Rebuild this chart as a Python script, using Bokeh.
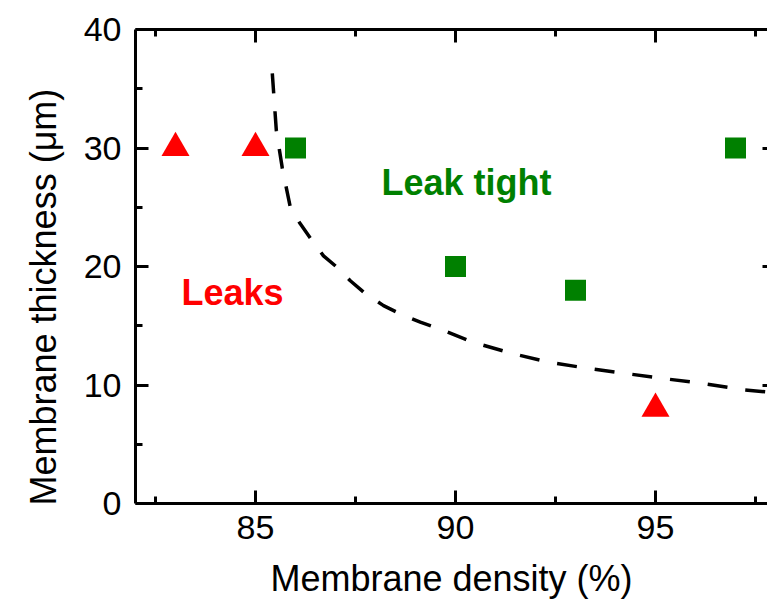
from bokeh.plotting import figure
from bokeh.models import LinearAxis, FixedTicker, ColumnDataSource, Title
from bokeh.core.properties import value
from bokeh.embed import file_html
from bokeh.resources import INLINE

# Data
leak_x = [83, 85, 95]
leak_y = [30, 30, 8]
tight_x = [86, 90, 93, 97]
tight_y = [30, 20, 18, 30]
curve_x = [85.42, 85.52, 85.67, 85.87, 86.12, 86.37, 86.7, 87.05, 87.37, 87.75,
           88.2, 88.62, 89.12, 89.55, 90.45, 91.42, 92.37, 93.32, 94.3, 95.3,
           96.25, 97.2, 98.0]
curve_y = [36.3, 31.5, 28.3, 25.0, 23.6, 22.4, 20.9, 19.9, 18.8, 17.7,
           16.7, 16.0, 15.3, 14.8, 13.6, 12.65, 11.9, 11.4, 10.95, 10.5,
           10.1, 9.6, 9.35]
x_major = [85, 90, 95]
x_minor = [82.5, 87.5, 92.5, 97.5]
y_major = [0, 10, 20, 30, 40]
y_minor = [5, 15, 25, 35]
labels_text = ["Leaks", "Leak tight"]
labels_x = [83.15, 88.15]
labels_y = [17.8, 27.05]
labels_color = ["#FF0000", "#008000"]
x_title = "Membrane density (%)"
y_title = "Membrane thickness (\u03bcm)"

FONT = "Liberation Sans"

p = figure(width=767, height=610, x_range=(82, 97.8), y_range=(0, 40),
           output_backend="svg", toolbar_location=None,
           x_axis_location=None, y_axis_location=None,
           min_border_left=135, min_border_top=29, min_border_bottom=107,
           min_border_right=0)
p.outline_line_color = None
p.grid.visible = False
p.background_fill_color = "white"
p.border_fill_color = "white"

xt = FixedTicker(ticks=x_major, minor_ticks=x_minor)
yt = FixedTicker(ticks=y_major, minor_ticks=y_minor)


def style(ax, labels=True, ticks=None):
    ax.axis_line_width = 3
    ax.axis_line_color = "black"
    ax.major_tick_in = 13
    ax.major_tick_out = 0
    ax.minor_tick_in = 7
    ax.minor_tick_out = 0
    ax.major_tick_line_width = 3
    ax.minor_tick_line_width = 3
    ax.major_tick_line_color = "black"
    ax.minor_tick_line_color = "black"
    if labels:
        ax.major_label_text_font = FONT
        ax.major_label_text_font_size = "34px"
        ax.major_label_text_color = "black"
        ax.axis_label_text_font = FONT
        ax.axis_label_text_font_size = "36px"
        ax.axis_label_text_font_style = "normal"
        ax.axis_label_text_color = "black"
    else:
        ax.major_label_overrides = {t: "" for t in ticks}
        ax.major_label_standoff = 0


xb = LinearAxis(ticker=xt, axis_label=x_title)
style(xb)
xb.major_label_standoff = 12
xb.axis_label_standoff = 16
p.add_layout(xb, "below")

yl = LinearAxis(ticker=yt)
style(yl)
yl.major_label_standoff = 14
p.add_layout(yl, "left")

yt_title = Title(text=y_title, align="left", offset=-2, standoff=34,
                 text_font=FONT, text_font_size="36px", text_font_style="normal",
                 text_color="black")
p.add_layout(yt_title, "left")

xtop = LinearAxis(ticker=xt)
style(xtop, labels=False, ticks=x_major)
p.add_layout(xtop, "above")

yr = LinearAxis(ticker=yt)
style(yr, labels=False, ticks=y_major)
yr.axis_line_color = None
yr.major_tick_in = 5
yr.minor_tick_in = 0
yr.minor_tick_line_color = None
p.add_layout(yr, "right")

p.line(curve_x, curve_y, line_color="black", line_width=3.5, line_dash="20 18")

p.scatter(leak_x, leak_y, marker="triangle", size=28, fill_color="#FF0000",
          line_color="#FF0000", line_width=0)
p.scatter(tight_x, tight_y, marker="square", size=21, fill_color="#008000",
          line_color="#008000", line_width=0)

src = ColumnDataSource(dict(x=labels_x, y=labels_y, t=labels_text, c=labels_color))
p.text(x="x", y="y", text="t", text_color="c", source=src,
       text_font=value(FONT), text_font_style="bold", text_font_size="36px",
       text_align="left", text_baseline="alphabetic")

open("out.html", "w").write(file_html(p, INLINE))
